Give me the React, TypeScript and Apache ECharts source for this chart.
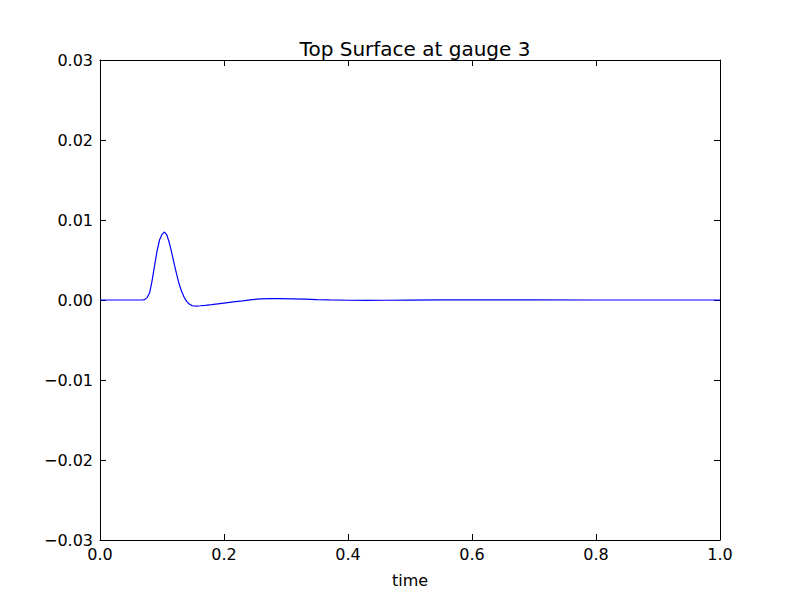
import React, { useEffect, useRef } from "react";
import * as echarts from "echarts";

const times: number[] = [
  0, 0.02, 0.04, 0.06, 0.068, 0.072, 0.076, 0.08, 0.084, 0.088, 0.092, 0.096, 0.1, 0.104, 0.108,
  0.112, 0.116, 0.12, 0.124, 0.128, 0.132, 0.136, 0.14, 0.144, 0.148, 0.152, 0.156, 0.162, 0.17,
  0.18, 0.19, 0.2, 0.215, 0.23, 0.245, 0.26, 0.275, 0.29, 0.31, 0.33, 0.35, 0.37, 0.4, 0.43, 0.46,
  0.5, 0.55, 0.6, 0.65, 0.7, 0.8, 0.9, 1.0,
];
const surface: number[] = [
  0, 0, 0, 0, 0, 0.00005, 0.0003, 0.0009, 0.0024, 0.0043, 0.0061, 0.0075, 0.0082, 0.0085, 0.0081,
  0.0071, 0.0058, 0.0044, 0.0031, 0.0019, 0.001, 0.0003, -0.0002, -0.0005, -0.0007, -0.00075,
  -0.00076, -0.00072, -0.00066, -0.00058, -0.00048, -0.00038, -0.00024, -0.0001, 0.00005, 0.00014,
  0.00018, 0.00018, 0.00015, 0.0001, 0.00005, 0.00001, -0.00003, -0.00004, -0.00003, -0.00001,
  0.00001, 0.00002, 0.00002, 0.00001, 0, 0, 0,
];
const xTicks = { min: 0, max: 1, interval: 0.2 };
const yTicks = { min: -0.03, max: 0.03, interval: 0.01 };
const title = "Top Surface at gauge 3";
const xName = "time";

const FONT = "DejaVu Sans";
const fmtY = (v: number) => v.toFixed(2).replace("-", "\u2212");
const fmtX = (v: number) => v.toFixed(1);

export default function App() {
  const ref = useRef<HTMLDivElement>(null);
  useEffect(() => {
    if (!ref.current) return;
    const chart = echarts.init(ref.current, undefined, { renderer: "svg" });
    const axisLine = { show: true, onZero: false, lineStyle: { color: "#000", width: 1 } };
    const axisTick = { show: true, inside: true, length: 6, lineStyle: { color: "#000", width: 1 } };
    chart.setOption({
      animation: false,
      backgroundColor: "#fff",
      title: {
        text: title,
        left: 410,
        textAlign: "center",
        top: 34,
        textStyle: { fontFamily: FONT, fontSize: 20, fontWeight: "normal", color: "#000" },
      },
      grid: { left: 100, right: 80, top: 60, bottom: 60, containLabel: false },
      xAxis: [
        {
          type: "value",
          min: xTicks.min,
          max: xTicks.max,
          interval: xTicks.interval,
          position: "bottom",
          name: xName,
          nameLocation: "middle",
          nameGap: 32,
          nameTextStyle: { fontFamily: FONT, fontSize: 16, color: "#000" },
          axisLine,
          axisTick,
          splitLine: { show: false },
          axisLabel: { fontFamily: FONT, fontSize: 16, color: "#000", margin: 6, formatter: fmtX },
        },
        {
          type: "value",
          min: xTicks.min,
          max: xTicks.max,
          interval: xTicks.interval,
          position: "top",
          axisLine,
          axisTick,
          splitLine: { show: false },
          axisLabel: { show: false },
        },
      ],
      yAxis: [
        {
          type: "value",
          min: yTicks.min,
          max: yTicks.max,
          interval: yTicks.interval,
          position: "left",
          axisLine,
          axisTick,
          splitLine: { show: false },
          axisLabel: { fontFamily: FONT, fontSize: 16, color: "#000", margin: 7, formatter: fmtY },
        },
        {
          type: "value",
          min: yTicks.min,
          max: yTicks.max,
          interval: yTicks.interval,
          position: "right",
          axisLine,
          axisTick,
          splitLine: { show: false },
          axisLabel: { show: false },
        },
      ],
      series: [
        {
          type: "line",
          data: times.map((t, i) => [t, surface[i]]),
          showSymbol: false,
          symbol: "none",
          smooth: false,
          lineStyle: { color: "#0000ff", width: 1.2 },
          xAxisIndex: 0,
          yAxisIndex: 0,
        },
      ],
    });
    return () => chart.dispose();
  }, []);
  return <div ref={ref} style={{ width: 800, height: 600, position: "absolute", left: 0, top: 0 }} />;
}
